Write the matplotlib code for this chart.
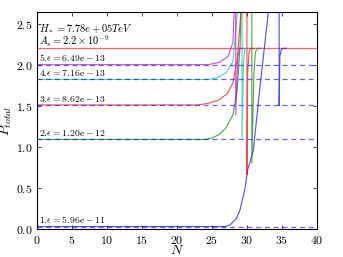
import matplotlib
matplotlib.use("Agg")
import matplotlib.pyplot as plt

plt.rcParams['font.family'] = 'serif'
plt.rcParams['font.serif'] = ['cmr10', 'DejaVu Serif']
plt.rcParams['mathtext.fontset'] = 'cm'
plt.rcParams['axes.formatter.use_mathtext'] = True

## 데이터 : 각 곡선의 (N, P) 값
levels = [0.03, 1.09, 1.51, 1.82, 2.0]
labels = [r'$1.\!\epsilon=5.96\mathrm{e}-11$',
          r'$2.\!\epsilon=1.20\mathrm{e}-12$',
          r'$3.\!\epsilon=8.62\mathrm{e}-13$',
          r'$4.\!\epsilon=7.16\mathrm{e}-13$',
          r'$5.\!\epsilon=6.49\mathrm{e}-13$']
colors = ['b', 'g', 'r', 'c', 'm']

n1 = [0, 27, 27.6, 28.5, 29, 29.7, 30.1, 30.9, 32.0, 33.1, 34.0, 34.55, 34.6, 34.7, 34.9, 35.2, 35.6]
p1 = [0.03, 0.03, 0.05, 0.13, 0.23, 0.48, 0.72, 0.95, 1.84, 2.67, 3.4, 20, 1.5, 2.1, 2.18, 2.2, 2.2]

n2 = [0, 24, 25.1, 26, 27, 28, 28.6, 29.0, 29.3, 30.65, 30.7, 31.0, 31.2, 31.5, 32.0]
p2 = [1.09, 1.09, 1.11, 1.15, 1.23, 1.39, 1.7, 2.2, 3.0, 20, 0.8, 1.9, 2.15, 2.2, 2.2]

n3 = [0, 23, 24.5, 26, 27.2, 28, 28.6, 29.2, 29.95, 30.0, 30.1, 30.3, 30.5, 31.0]
p3 = [1.51, 1.51, 1.53, 1.57, 1.65, 1.78, 2.06, 2.7, 20, 0.66, 1.9, 2.15, 2.2, 2.2]

n4 = [0, 24.5, 25.7, 27, 28, 28.7, 29.25, 29.3, 29.5, 29.7, 30.2]
p4 = [1.82, 1.82, 1.84, 1.9, 2.04, 2.7, 20, 1.11, 2.0, 2.2, 2.2]

n5 = [0, 24.5, 26.1, 27.3, 28, 28.2, 28.35, 28.4, 28.7, 29.0, 29.5]
p5 = [2.0, 2.0, 2.03, 2.1, 2.27, 2.7, 20, 1.39, 2.1, 2.2, 2.2]

curves_n = [n1, n2, n3, n4, n5]
curves_p = [p1, p2, p3, p4, p5]

a_s = 2.2
h_text = r'$H_*=7.78e+05TeV$'
a_text = r'$A_s=2.2\times 10^{-9}$'

fig = plt.figure(figsize=(3.43, 2.57), dpi=100)
ax = fig.add_axes([0.108, 0.109, 0.816, 0.844])

# 기준선 A_s
ax.axhline(a_s, color='r', lw=0.9, alpha=0.6)

# 곡선들
for n, p, c in zip(curves_n, curves_p, colors):
    ax.plot(n, p, color=c, lw=0.8, alpha=0.7)

# 점선 및 라벨
for lv, lb in zip(levels, labels):
    ax.axhline(lv, color='b', ls='--', lw=0.9, alpha=0.6, dashes=(4, 3))
    ax.text(0.3, lv + 0.015, lb, fontsize=7, va='bottom', ha='left')

ax.text(0.3, 2.44, h_text, fontsize=7.5, va='center', ha='left')
ax.text(0.3, 2.28, a_text, fontsize=7.5, va='center', ha='left')

ax.set_xlim(0, 40)
ax.set_ylim(0, 2.64)
ax.set_xticks(range(0, 41, 5))
ax.set_yticks([0.0, 0.5, 1.0, 1.5, 2.0, 2.5])
ax.tick_params(direction='in', top=True, right=True, labelsize=8.5, length=3, width=0.5)
ax.set_xlabel(r'$N$', fontsize=10, labelpad=-1)
ax.set_ylabel(r'$P_{total}$', fontsize=10, labelpad=1)
for s in ax.spines.values():
    s.set_linewidth(0.8)

fig.savefig('out.png', dpi=100)
